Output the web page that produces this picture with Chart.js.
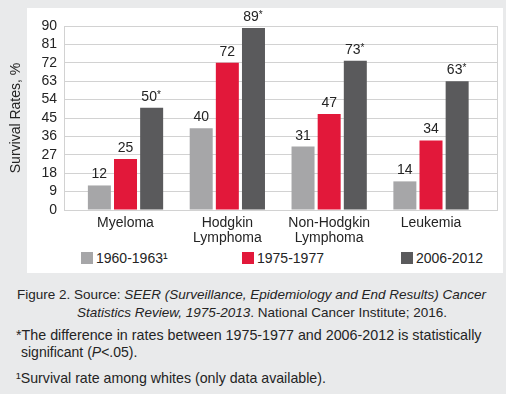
<!DOCTYPE html>
<html>
<head>
<meta charset="utf-8">
<script src="https://cdn.jsdelivr.net/npm/chart.js@4.4.0/dist/chart.umd.min.js"></script>
<style>
  body { margin: 0; background: #e9eaeb; font-family: "Liberation Sans", Arial, sans-serif; color: #242424; }
  #wrap { position: relative; width: 506px; height: 394px; overflow: hidden; }
  #panel { position: absolute; left: 27px; top: 8px; width: 476px; height: 265px; background: #fff; }
  #chartBox { position: absolute; left: 0; top: 0; width: 506px; height: 250px; }
  .leg { position: absolute; top: 250px; font-size: 14px; line-height: 16px; white-space: nowrap; }
  .leg span.box { display: inline-block; width: 12px; height: 12px; vertical-align: -1px; margin-right: 3px; }
  .cap { position: absolute; font-size: 14px; line-height: 18px; white-space: nowrap; }
</style>
</head>
<body>
<div id="wrap">
  <div id="panel"></div>
  <div id="chartBox"><canvas id="chart"></canvas></div>
  <div id="legend"></div>
  <div class="cap" style="left:17px;top:286px;font-size:13.5px">Figure 2. Source: <i>SEER (Surveillance, Epidemiology and End Results) Cancer</i></div>
  <div class="cap" style="left:77px;top:304px;font-size:13.5px"><i>Statistics Review, 1975-2013</i>. National Cancer Institute; 2016.</div>
  <div class="cap" style="left:16px;top:326px;font-size:14.3px">*The difference in rates between 1975-1977 and 2006-2012 is statistically</div>
  <div class="cap" style="left:21px;top:343px">significant (<i>P</i>&lt;.05).</div>
  <div class="cap" style="left:16px;top:369px;font-size:14.2px">¹Survival rate among whites (only data available).</div>
</div>
<script>
const categories = [["Myeloma"], ["Hodgkin", "Lymphoma"], ["Non-Hodgkin", "Lymphoma"], ["Leukemia"]];
const periods = ["1960-1963¹", "1975-1977", "2006-2012"];
const rates1960 = [12, 40, 31, 14];
const rates1975 = [25, 72, 47, 34];
const rates2006 = [50, 89, 73, 63];
const significant = [false, false, true]; // asterisk on 2006-2012 values
const yTicks = [0, 9, 18, 27, 36, 45, 54, 63, 72, 81, 90];
const colors = ["#a6a6a8", "#e2183a", "#5a5a5c"];
const legendLeft = [81, 242, 401];

const font = "'Liberation Sans', Arial, sans-serif";
const textColor = "#242424";
const gridColor = "#d2d2d2";

const toPoints = (arr) => arr.map((v, i) => ({ x: i, y: v }));

const valueLabels = {
  id: "valueLabels",
  afterDatasetsDraw(chart) {
    const ctx = chart.ctx;
    ctx.save();
    ctx.fillStyle = textColor;
    ctx.textBaseline = "alphabetic";
    chart.data.datasets.forEach((ds, di) => {
      const meta = chart.getDatasetMeta(di);
      meta.data.forEach((bar, i) => {
        const txt = String(ds.data[i].y);
        ctx.font = "14px " + font;
        const w = ctx.measureText(txt).width;
        const star = significant[di] ? 5 : 0;
        const x0 = bar.x - (w + star) / 2;
        ctx.textAlign = "left";
        ctx.fillText(txt, x0, bar.y - 7);
        if (significant[di]) {
          ctx.font = "10px " + font;
          ctx.fillText("*", x0 + w, bar.y - 10);
        }
      });
    });
    ctx.restore();
  }
};

const ctx = document.getElementById("chart").getContext("2d");
const chart = new Chart(ctx, {
  type: "bar",
  data: {
    datasets: [
      { label: periods[0], data: toPoints(rates1960), backgroundColor: colors[0] },
      { label: periods[1], data: toPoints(rates1975), backgroundColor: colors[1] },
      { label: periods[2], data: toPoints(rates2006), backgroundColor: colors[2] }
    ]
  },
  options: {
    responsive: true,
    maintainAspectRatio: false,
    animation: false,
    layout: { padding: { top: 26, right: 9, left: 0, bottom: 0 } },
    categoryPercentage: 0.77,
    barPercentage: 0.88,
    plugins: {
      legend: { display: false },
      tooltip: { enabled: false }
    },
    scales: {
      x: {
        type: "linear",
        offset: false,
        min: -0.604,
        max: 3.648,
        grid: { display: false, offset: false },
        border: { display: false },
        afterBuildTicks: (scale) => { scale.ticks = categories.map((c, i) => ({ value: i })); },
        afterFit: (scale) => { scale.height = 40; },
        ticks: {
          autoSkip: false,
          maxRotation: 0,
          padding: -3,
          color: textColor,
          font: { family: font, size: 14, lineHeight: 1.1 },
          callback: (v) => categories[v]
        }
      },
      y: {
        min: 0,
        max: 90,
        afterBuildTicks: (scale) => { scale.ticks = yTicks.map(v => ({ value: v })); },
        afterFit: (scale) => { scale.width = 64; },
        grid: { color: gridColor, drawTicks: false },
        border: { display: true, color: gridColor },
        ticks: {
          autoSkip: false,
          padding: 7,
          color: textColor,
          font: { family: font, size: 14 }
        },
        title: {
          display: true,
          text: "Survival Rates, %",
          color: textColor,
          font: { family: font, size: 14 },
          padding: { top: 8, bottom: 0 }
        }
      },
      y2: {
        position: "right",
        min: 0,
        max: 90,
        grid: { display: false },
        ticks: { display: false },
        border: { display: true, color: gridColor },
        afterFit: (scale) => { scale.width = 0; }
      }
    }
  },
  plugins: [valueLabels]
});

// html legend built from the datasets
const legend = document.getElementById("legend");
chart.data.datasets.forEach((ds, i) => {
  const item = document.createElement("div");
  item.className = "leg";
  item.style.left = legendLeft[i] + "px";
  item.innerHTML = `<span class="box" style="background:${ds.backgroundColor}"></span>${ds.label}`;
  legend.appendChild(item);
});
</script>
</body>
</html>
